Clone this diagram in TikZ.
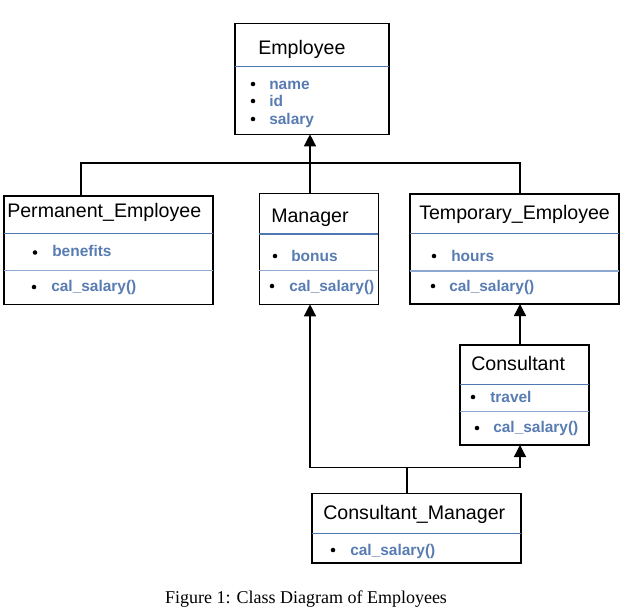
\documentclass[tikz,border=0pt]{standalone}
\usepackage{fontspec}
\setmainfont{Liberation Serif}
\setsansfont{Liberation Sans}
\usetikzlibrary{positioning, fit, arrows.meta}
\definecolor{memberblue}{RGB}{88,124,178}
\definecolor{ruledark}{RGB}{79,120,179}
\definecolor{rulelight}{RGB}{141,167,206}

\begin{document}
\begin{tikzpicture}[
    x=0.75pt, y=-0.75pt,
    every node/.style={font=\sffamily},
    classbox/.style={draw, line width=1.2pt, inner sep=0pt, outer sep=0pt},
    title/.style={font=\sffamily\fontsize{14.7}{17}\selectfont, anchor=base west, inner sep=0pt},
    member/.style={font=\sffamily\bfseries\fontsize{11.6}{14}\selectfont, text=memberblue, anchor=base west, inner sep=0pt},
    rule/.style={draw=ruledark, line width=0.9pt},
    lightrule/.style={draw=rulelight, line width=1.1pt},
    arrow/.style={-{Triangle[width=9pt, length=9pt]}, line width=1pt},
    link/.style={line width=1pt},
    caption/.style={font=\rmfamily\fontsize{13.5}{16}\selectfont, anchor=base, inner sep=0pt}
]
\useasboundingbox (0,0) rectangle (626,612);

% class boxes
\node[classbox, fit={(234.7,23.3) (388.7,134.3)}] (emp) {};
\node[classbox, fit={(4,196) (213,304.3)}] (perm) {};
\node[classbox, fit={(259.3,193.3) (378.3,304.3)}] (mgr) {};
\node[classbox, fit={(409.7,194) (618.7,304)}] (temp) {};
\node[classbox, fit={(460,345) (588.7,445)}] (cons) {};
\node[classbox, fit={(311.7,493.3) (520.7,562.7)}] (cmgr) {};

% compartments
\draw[rule] (emp.west |- 0,66.7) -- (emp.east |- 0,66.7);
\draw[rule] (perm.west |- 0,233.3) -- (perm.east |- 0,233.3);
\draw[lightrule] (perm.west |- 0,270.7) -- (perm.east |- 0,270.7);
\draw[rule] (mgr.west |- 0,234) -- (mgr.east |- 0,234);
\draw[lightrule] (mgr.west |- 0,270.7) -- (mgr.east |- 0,270.7);
\draw[rule] (temp.west |- 0,233.3) -- (temp.east |- 0,233.3);
\draw[lightrule] (temp.west |- 0,271) -- (temp.east |- 0,271);
\draw[rule] (cons.west |- 0,384.3) -- (cons.east |- 0,384.3);
\draw[lightrule] (cons.west |- 0,411.7) -- (cons.east |- 0,411.7);
\draw[rule] (cmgr.west |- 0,533.3) -- (cmgr.east |- 0,533.3);

% class names
\node[title] (emp-t) at (258,54) {Employee};
\node[title] (perm-t) at (7,217) {Permanent\_Employee};
\node[title] (mgr-t) at (271,222) {Manager};
\node[title] (temp-t) at (419,219) {Temporary\_Employee};
\node[title] (cons-t) at (471,370) {Consultant};
\node[title] (cmgr-t) at (323,519) {Consultant\_Manager};

% members
\foreach \name/\y in {name/89, id/106, salary/124} {
    \node[member] (emp-\name) at (269,\y) {\name};
    \fill (253,\y-5) circle (1.7pt);
}
\node[member] (perm-a) at (52,256.7) {benefits};
\fill (35,252.5) circle (1.7pt);
\node[member] (perm-m) at (51,291.5) {cal\_salary()};
\fill (34,287) circle (1.7pt);
\node[member] (mgr-a) at (291,261) {bonus};
\fill (275,256) circle (1.7pt);
\node[member] (mgr-m) at (289,291) {cal\_salary()};
\fill (272,286) circle (1.7pt);
\node[member] (temp-a) at (451,261) {hours};
\fill (434,256) circle (1.7pt);
\node[member] (temp-m) at (449,291) {cal\_salary()};
\fill (433,286) circle (1.7pt);
\node[member] (cons-a) at (490,402.5) {travel};
\fill (473,397) circle (1.7pt);
\node[member] (cons-m) at (493,432.5) {cal\_salary()};
\fill (477,428) circle (1.7pt);
\node[member] (cmgr-m) at (350,555) {cal\_salary()};
\fill (333,550) circle (1.7pt);

% generalisation links
\coordinate (bus) at (310,163);
\coordinate (lbend) at (81,163);
\coordinate (rbend) at (520,163);
\coordinate (lowbus) at (407,467.5);

\draw[link] (lbend |- perm.north) -- (lbend) -- (rbend) -- (rbend |- temp.north);
\draw[link] (bus |- mgr.north) -- (bus);
\draw[arrow] (bus) -- (bus |- emp.south);
\draw[arrow] (rbend |- cons.north) -- (rbend |- temp.south);

\draw[link] (lowbus |- cmgr.north) -- (lowbus);
\draw[arrow] (lowbus) -| (bus |- mgr.south);
\draw[arrow] (lowbus) -| (rbend |- cons.south);

% caption
\node[caption] (cap) at (306,603) {Figure 1: Class Diagram of Employees};

\end{tikzpicture}
\end{document}
